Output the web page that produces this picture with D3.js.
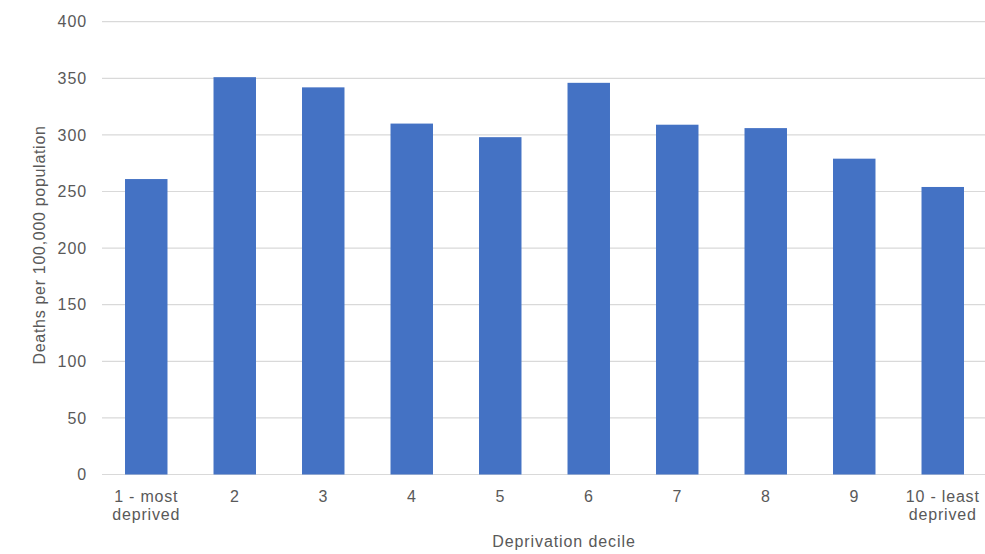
<!DOCTYPE html>
<html>
<head>
<meta charset="utf-8">
<script src="https://cdn.jsdelivr.net/npm/d3@7"></script>
<style>
  html, body { margin: 0; padding: 0; background: #fff; }
  svg { display: block; font-family: "Liberation Sans", Arial, sans-serif; }
</style>
</head>
<body>
<svg id="chart" width="985" height="554"></svg>
<script>
// Deaths per 100,000 population by deprivation decile
const categories = ["1 - most|deprived", "2", "3", "4", "5", "6", "7", "8", "9", "10 - least|deprived"];
const deaths = [261, 351, 342, 310, 298, 346, 309, 306, 279, 254];
const yTicks = [0, 50, 100, 150, 200, 250, 300, 350, 400];

const svg = d3.select("#chart");
const margin = { left: 102, right: -2, top: 21.7, bottom: 79.5 };
const W = 985, H = 554;

const x = d3.scaleBand()
  .domain(categories)
  .range([margin.left, W - margin.right])
  .paddingInner(0.52)
  .paddingOuter(0.26);

const y = d3.scaleLinear()
  .domain([0, 400])
  .range([H - margin.bottom, margin.top]);

const textColor = "#595959";

// Horizontal gridlines
svg.append("g")
  .selectAll("line")
  .data(yTicks)
  .join("line")
  .attr("x1", margin.left)
  .attr("x2", W)
  .attr("y1", d => y(d))
  .attr("y2", d => y(d))
  .attr("stroke", "#d9d9d9")
  .attr("stroke-width", 1.2);

// Y axis tick labels
const yAxis = d3.axisLeft(y).tickValues(yTicks).tickSize(0).tickPadding(0);
svg.append("g")
  .attr("transform", `translate(${margin.left - 15},0)`)
  .call(yAxis)
  .call(g => g.select(".domain").remove())
  .call(g => g.selectAll("text")
    .attr("fill", textColor)
    .style("font-size", "16px")
    .attr("letter-spacing", "0.9px")
    .attr("font-family", "\"Liberation Sans\", Arial, sans-serif"));

// Bars
svg.append("g")
  .selectAll("rect")
  .data(deaths)
  .join("rect")
  .attr("x", (d, i) => x(categories[i]))
  .attr("width", x.bandwidth())
  .attr("y", d => y(d))
  .attr("height", d => y(0) - y(d))
  .attr("fill", "#4472c4");

// X axis category labels (two lines where needed)
const xAxis = d3.axisBottom(x).tickSize(0).tickPadding(0).tickFormat(() => "");
const xg = svg.append("g")
  .attr("transform", `translate(0,${y(0)})`)
  .call(xAxis)
  .call(g => g.select(".domain").remove());

xg.selectAll(".tick").each(function (d) {
  const t = d3.select(this).append("text")
    .attr("text-anchor", "middle")
    .attr("fill", textColor)
    .style("font-size", "16px")
    .attr("letter-spacing", "0.8px");
  d.split("|").forEach((line, i) => {
    t.append("tspan")
      .attr("x", 0)
      .attr("y", 27 + i * 18.5)
      .text(line);
  });
});

// Axis titles
svg.append("text")
  .attr("x", 564)
  .attr("y", 547)
  .attr("text-anchor", "middle")
  .attr("fill", textColor)
  .style("font-size", "16px")
  .attr("letter-spacing", "0.9px")
  .text("Deprivation decile");

svg.append("text")
  .attr("transform", "translate(45,245) rotate(-90)")
  .attr("text-anchor", "middle")
  .attr("fill", textColor)
  .style("font-size", "16px")
  .attr("letter-spacing", "0.7px")
  .text("Deaths per 100,000 population");
</script>
</body>
</html>
